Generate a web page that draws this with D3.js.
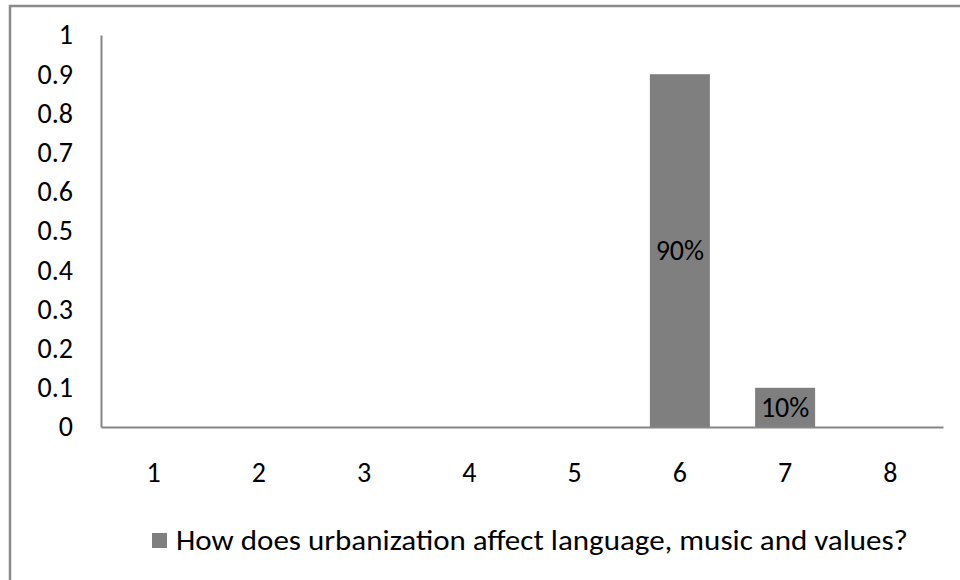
<!DOCTYPE html>
<html>
<head>
<meta charset="utf-8">
<script src="https://cdn.jsdelivr.net/npm/d3@7"></script>
<style>
  body { margin: 0; background: #fff; }
  svg { display: block; }
  text { font-family: Carlito, Calibri, "Open Sans", sans-serif; fill: #000; }
</style>
</head>
<body>
<div id="chart"></div>
<script>
// data
const categories = ["1", "2", "3", "4", "5", "6", "7", "8"];
const values = [0, 0, 0, 0, 0, 0.9, 0.1, 0];
const valueLabels = ["", "", "", "", "", "90%", "10%", ""];
const yTicks = [0, 0.1, 0.2, 0.3, 0.4, 0.5, 0.6, 0.7, 0.8, 0.9, 1];
const seriesName = "How does urbanization affect language, music and values?";

const width = 960, height = 580;
const plot = { left: 101, right: 943, top: 35, bottom: 427 };
const fontSize = "28px";

const svg = d3.select("#chart")
    .append("svg")
    .attr("width", width)
    .attr("height", height);

// outer chart frame (runs off the right/bottom edge)
svg.append("rect")
    .attr("x", 10)
    .attr("y", 6)
    .attr("width", 1000)
    .attr("height", 640)
    .attr("fill", "none")
    .attr("stroke", "#8a8a8a")
    .attr("stroke-width", 2.5);

const x = d3.scaleBand()
    .domain(categories)
    .range([plot.left, plot.right]);

const y = d3.scaleLinear()
    .domain([0, 1])
    .range([plot.bottom, plot.top]);

const barW = x.bandwidth() * 0.57;

// bars
svg.append("g")
    .selectAll("rect")
    .data(values)
    .join("rect")
    .attr("x", (d, i) => x(categories[i]) + (x.bandwidth() - barW) / 2)
    .attr("y", d => y(d))
    .attr("width", barW)
    .attr("height", d => y(0) - y(d))
    .attr("fill", "#7f7f7f");

// data labels
svg.append("g")
    .selectAll("text")
    .data(values)
    .join("text")
    .attr("x", (d, i) => x(categories[i]) + x.bandwidth() / 2)
    .attr("y", d => (y(d) + y(0)) / 2)
    .attr("dy", "0.35em")
    .attr("text-anchor", "middle")
    .style("font-size", fontSize)
    .text((d, i) => valueLabels[i]);

// y axis
const yAxis = svg.append("g")
    .attr("transform", `translate(${plot.left},0)`)
    .call(d3.axisLeft(y).tickValues(yTicks).tickSize(0).tickPadding(28).tickFormat(d3.format("")));
yAxis.select(".domain").attr("stroke", "#868686").attr("stroke-width", 2);
yAxis.selectAll("text").style("font-size", fontSize);

// x axis
const xAxis = svg.append("g")
    .attr("transform", `translate(0,${plot.bottom})`)
    .call(d3.axisBottom(x).tickSize(0).tickPadding(0));
xAxis.select(".domain").attr("stroke", "#868686").attr("stroke-width", 2);
xAxis.selectAll("text").style("font-size", fontSize).attr("y", 45).attr("dy", "0.35em");

// legend
const legend = svg.append("g").attr("transform", "translate(152,533)");
legend.append("rect")
    .attr("width", 15)
    .attr("height", 15)
    .attr("fill", "#7f7f7f");
legend.append("text")
    .attr("x", 24)
    .attr("y", 7.5)
    .attr("dy", "0.35em")
    .style("font-size", fontSize)
    .attr("textLength", 732)
    .attr("lengthAdjust", "spacingAndGlyphs")
    .text(seriesName);
</script>
</body>
</html>
